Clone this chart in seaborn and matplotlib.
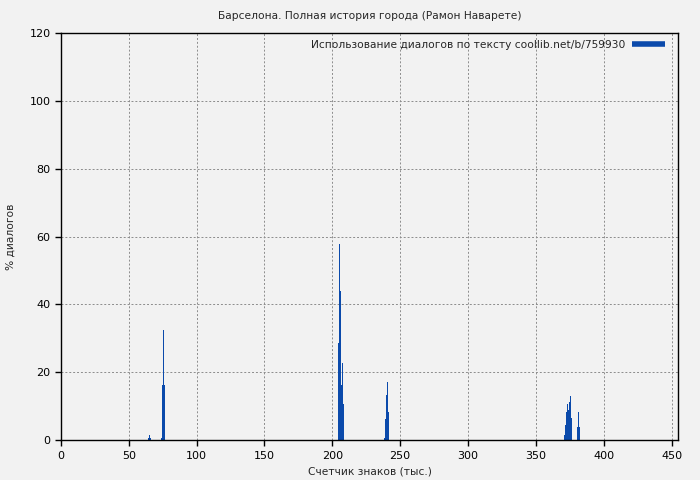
import pandas as pd
import matplotlib
matplotlib.use("Agg")
import matplotlib.pyplot as plt
from matplotlib.lines import Line2D
import seaborn as sns

# Position in the text (thousands of characters) and share of dialogue (%)
chars_k = [64.5, 65.25, 66.0, 74.25, 75.0, 75.75, 76.5,
           204.75, 205.5, 206.25, 207.0, 207.75, 208.5,
           238.5, 239.25, 240.0, 240.75, 241.5,
           371.25, 372.0, 372.75, 373.5, 374.25, 375.0, 375.75, 376.5,
           381.0, 381.75, 382.5]
dialog_pct = [0.7, 1.5, 0.6, 0.5, 16.2, 32.4, 16.2,
              28.5, 57.7, 44.0, 16.3, 22.8, 10.8,
              0.5, 6.2, 13.3, 17.1, 8.3,
              1.5, 4.4, 8.4, 10.8, 9.0, 11.3, 13.0, 6.5,
              3.8, 8.3, 3.9]

x_ticks = [0, 50, 100, 150, 200, 250, 300, 350, 400, 450]
y_ticks = [0, 20, 40, 60, 80, 100, 120]

title = "Барселона. Полная история города (Рамон Наварете)"
legend_label = "Использование диалогов по тексту coollib.net/b/759930"
bar_color = "#0b4aab"

df = pd.DataFrame({"chars": chars_k, "pct": dialog_pct})

sns.set_theme(style="ticks")
plt.rcParams["font.family"] = ["DejaVu Sans"]
plt.rcParams["axes.facecolor"] = "#f2f2f2"
plt.rcParams["figure.facecolor"] = "#f2f2f2"

fig, ax = plt.subplots(figsize=(7, 4.8), dpi=100)
fig.subplots_adjust(left=0.087, right=0.969, top=0.931, bottom=0.083)

sns.barplot(data=df, x="chars", y="pct", native_scale=True, width=1.05,
            color=bar_color, saturation=1, errorbar=None, linewidth=0, ax=ax)

ax.set_xlim(0, 455)
ax.set_ylim(0, 120)
ax.set_xticks(x_ticks)
ax.set_yticks(y_ticks)
ax.tick_params(labelsize=8, length=4, width=1, colors="black", direction="out")
ax.grid(True, color="#8c8c8c", linestyle=(0, (2, 2)), linewidth=0.7)
ax.set_axisbelow(True)
for s in ax.spines.values():
    s.set_visible(True)
    s.set_color("black")
    s.set_linewidth(1)

ax.set_title(title, fontsize=7.7, pad=10)
ax.set_xlabel("Счетчик знаков (тыс.)", fontsize=7.7, labelpad=4)
ax.set_ylabel("% диалогов", fontsize=7.7, labelpad=10)

handle = Line2D([0], [0], color=bar_color, linewidth=4, solid_capstyle="butt")
ax.legend([handle], [legend_label], loc="upper right", frameon=False,
          bbox_to_anchor=(0.989, 1.0),
          markerfirst=False, fontsize=7.7, handlelength=3.1,
          borderaxespad=0.2, handletextpad=0.6)

fig.savefig("out.png", dpi=100, facecolor=fig.get_facecolor())
